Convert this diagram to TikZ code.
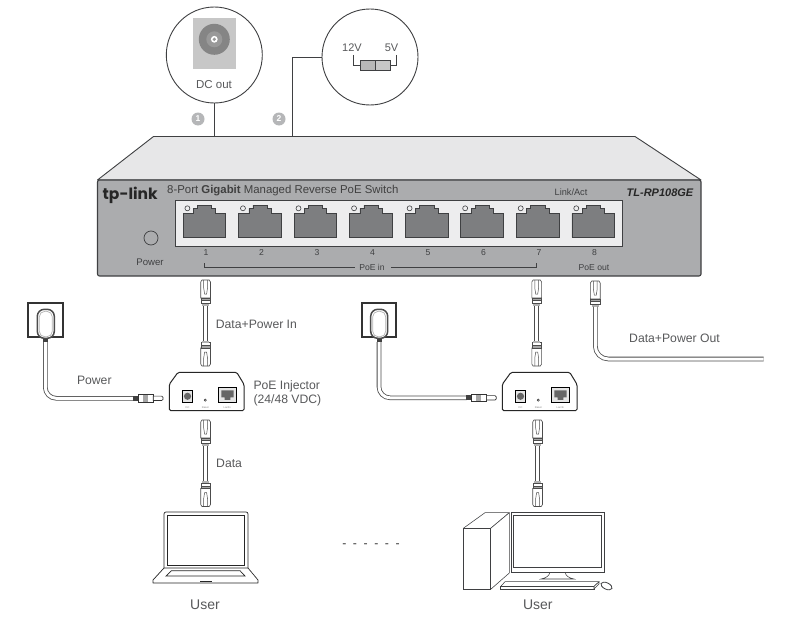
\documentclass[tikz,border=0pt]{standalone}
\usepackage{fontspec}
\setmainfont{Liberation Sans}
\newfontfamily\logofont{Poppins}
\usetikzlibrary{calc}
\definecolor{panel}{HTML}{ABACAE}
\definecolor{topface}{HTML}{E7E7E8}
\definecolor{portbg}{HTML}{EDEDEE}
\definecolor{portfill}{HTML}{7D7E80}
\definecolor{edge}{HTML}{3F4042}
\definecolor{txt}{HTML}{58595B}
\definecolor{callgrey}{HTML}{B5B6B8}
\tikzset{
  lbl/.style={inner sep=0pt,text=txt,font=\fontsize{12.2}{14}\selectfont},
  lblw/.style={lbl,anchor=west},
  small/.style={inner sep=0pt,text=edge,font=\fontsize{8.6}{10}\selectfont},
  tiny/.style={inner sep=0pt,text=gray,font=\fontsize{2.6}{3}\selectfont},
  callout/.style={circle,draw=edge,line width=0.9pt,minimum size=96pt,inner sep=0pt,fill=white},
  badge/.style={circle,fill=callgrey,text=white,minimum size=13pt,inner sep=0pt,font=\fontsize{8.5}{9}\bfseries\selectfont},
  wire/.style={draw=edge,line width=0.9pt},
  cable/.style={draw=black!70,line width=4.6pt,line cap=butt},
  cablein/.style={draw=white,line width=3pt,line cap=butt},
  outline/.style={draw=black!85,line width=0.8pt},
  thin/.style={draw=edge,line width=0.55pt},
  plugup/.pic={
    \path[fill=white,draw=black!70,line width=0.6pt] (-3.6,0) -- (3.6,0) -- (4.9,2) -- (4.9,18) -- (-4.9,18) -- (-4.9,2) -- cycle;
    \path[draw=black!70,line width=0.5pt] (-1.9,0) -- (-1.9,8) -- (-1,14) -- (1,14) -- (1.9,8) -- (1.9,0);
    \path[fill=black!35,draw=black!70,line width=0.4pt] (-4.9,18) rectangle (4.9,20.5);
    \path[fill=white,draw=black!70,line width=0.4pt] (-4.9,20.5) rectangle (4.9,23.5);
    \path[fill=black!30] (-3.6,23.5) rectangle (3.6,25.5);
  },
  plugdown/.pic={
    \path[fill=white,draw=black!70,line width=0.6pt] (-3.6,0) -- (3.6,0) -- (4.9,-2) -- (4.9,-18) -- (-4.9,-18) -- (-4.9,-2) -- cycle;
    \path[draw=black!70,line width=0.5pt] (-1.9,0) -- (-1.9,-8) -- (-1,-14) -- (1,-14) -- (1.9,-8) -- (1.9,0);
    \path[fill=black!35,draw=black!70,line width=0.4pt] (-4.9,-18) rectangle (4.9,-20.5);
    \path[fill=white,draw=black!70,line width=0.4pt] (-4.9,-20.5) rectangle (4.9,-23.5);
    \path[fill=black!30] (-3.6,-23.5) rectangle (3.6,-25.5);
  },
  swport/.pic={
    \path[fill=portfill,draw=edge,line width=0.7pt] (0,8.3) -- (10.3,8.3) -- (10.3,3.3) -- (14.3,3.3) -- (14.3,0) -- (28.7,0) -- (28.7,3.3) -- (32.7,3.3) -- (32.7,8.3) -- (42.7,8.3) -- (42.7,32.3) -- (0,32.3) -- cycle;
    \path[draw=edge,line width=0.6pt,fill=portbg] (4.4,3.3) circle (2.5);
  },
  injector/.pic={
    \path[fill=white,outline,rounded corners=1.5pt,line width=1pt] (0,38.4) -- (0,12) -- (8.7,0) -- (67.4,0) -- (74.7,12) -- (74.7,38.4) -- cycle;
    \path[fill=black!10,draw=black,line width=0.9pt] (13,18) rectangle (23.4,30);
    \path[fill=black!60] (18.2,24) circle (3.6);
    \path[fill=black!80] (36,27.8) circle (1.5);
    \path[fill=white] (36,27.8) circle (0.5);
    \path[fill=black!10,draw=black,line width=1.1pt] (49,15) rectangle (67.4,30.4);
    \path[fill=black!60] (52,18) -- (64.4,18) -- (64.4,25) -- (61,25) -- (61,27.5) -- (55.4,27.5) -- (55.4,25) -- (52,25) -- cycle;
    \node[tiny] at (18.2,35.5) {DC};
    \node[tiny] at (36,35.5) {Reset};
    \node[tiny] at (58,35.5) {Lan/In};
  },
  outlet/.pic={
    \path[fill=white,draw=black!80,line width=2pt] (0,0) rectangle (34.7,34);
    \path[fill=white,draw=black!70,line width=1.5pt,rounded corners=7pt] (9,6) rectangle (26,35);
    \path[draw=black!30,line width=0.7pt,rounded corners=5.5pt] (11,8) rectangle (24,33.5);
    \path[fill=black!75] (15,35.5) rectangle (20,39);
  },
  dcplug/.pic={
    \path[fill=black!75] (0,-2.5) rectangle (5.3,2.5);
    \path[fill=white,draw=black!80,line width=0.7pt] (5.3,-3.6) rectangle (20.6,3.6);
    \path[fill=black!35] (10,-3.3) rectangle (15,3.3);
    \path[fill=white,draw=black!80,line width=0.7pt] (20.6,-2.2) -- (29,-2.2) -- (30.3,-1) -- (30.3,1) -- (29,2.2) -- (20.6,2.2) -- cycle;
  }
}
\begin{document}
\begin{tikzpicture}[x=1pt,y=-1pt]
\useasboundingbox[fill=white] (0,0) rectangle (789,626);

%% ---- switch body
\coordinate (top1) at (214.3,136.5);
\coordinate (top2) at (292.5,136.5);
\path[fill=topface,draw=edge,line width=0.9pt,line join=round] (97.5,180) -- (153.5,136.5) -- (635,136.5) -- (701,180) -- cycle;
\path[fill=panel,draw=edge,line width=1.1pt,rounded corners=2pt] (97.5,180) rectangle (701,276);
\path[fill=portbg,draw=edge,line width=0.7pt] (175,200) rectangle (622.7,246.7);
\foreach \i in {0,...,7} {
  \pic at ({183+55.55*\i},205) {swport};
  \node[small] at ({206+55.5*\i},252.5) {\the\numexpr\i+1\relax};
}
\node[inner sep=0pt,text=black!85,anchor=west,font=\logofont\fontsize{15.5}{18}\bfseries\selectfont] (logo) at (102.5,195) {tp-link};
\node[inner sep=0pt,text=black!75,anchor=west,font=\fontsize{11.4}{13}\selectfont] (title) at (167,191) {8-Port \textbf{Gigabit} Managed Reverse PoE Switch};
\node[small,font=\fontsize{9.2}{11}\selectfont] (linkact) at (571,192) {Link/Act};
\node[inner sep=0pt,text=black!85,font=\fontsize{11}{13}\bfseries\itshape\selectfont] (model) at (660,192.5) {TL-RP108GE};
\node[circle,draw=edge,line width=0.7pt,minimum size=14pt,inner sep=0pt] (pwrled) at (151,238) {};
\node[small,font=\fontsize{9.6}{11}\selectfont] (pwrlbl) at (150,262) {Power};
\node[small] (poein) at (372,267.5) {PoE in};
\node[small] (poeout) at (594,267.5) {PoE out};
\coordinate (bl) at (204,263);
\coordinate (br) at (536,263);
\draw[thin] (bl) |- ($(poein.west)+(-4,0)$);
\draw[thin] (br) |- ($(poein.east)+(6,0)$);

%% ---- callouts
\node[callout] (dc) at (214.3,55) {};
\node[callout] (sw) at (370,57) {};
\draw[wire] (dc) -- (top1);
\draw[wire] (sw) -| (top2);
\path[fill=black!22] (193.3,18.3) rectangle (235.7,69.3);
\path[fill=black!48] (214.3,39.3) circle (15.5);
\path[fill=black!40] (214.3,39.3) circle (8);
\path[fill=white] (214.3,39.3) circle (3.4);
\path[fill=black!40] (214.3,39.3) circle (1.8);
\node[lbl,font=\fontsize{11.5}{13}\selectfont] (dctxt) at (214,85) {DC out};
\node[lbl,font=\fontsize{11}{13}\selectfont] (v12) at (352,48) {12V};
\node[lbl,font=\fontsize{11}{13}\selectfont] (v5) at (391.5,48) {5V};
\path[fill=black!28,draw=edge,line width=0.7pt] (360,60.5) rectangle (375,70.5);
\path[fill=black!22,draw=edge,line width=0.7pt] (375,60.5) rectangle (390,70.5);
\draw[thin] (353,55) |- (360,65.5);
\draw[thin] (396,55) |- (390,65.5);
\node[badge] (b1) at (198,119) {1};
\node[badge] (b2) at (279,119) {2};

%% ---- left branch
\pic at (205.6,280) {plugup};
\coordinate (a1) at (205.6,305.5);
\coordinate (a2) at (205.6,340.5);
\draw[cable] (a1) -- (a2); \draw[cablein] (a1) -- (a2);
\pic at (205.6,366) {plugdown};
\pic at (169.3,372.3) {injector};
\node[lblw] (dpi) at (215.7,324) {Data+Power In};
\node[lblw] (inj) at (253.3,386) {PoE Injector};
\node[lblw] (inj2) at (253.3,400) {(24/48 VDC)};
\pic at (28.3,303.3) {outlet};
\coordinate (p1) at (45.3,342);
\coordinate (p2) at (45.3,398.3);
\coordinate (p3) at (133,398.3);
\draw[cable,rounded corners=11pt] (p1) -- (p2) -- (p3);
\draw[cablein,rounded corners=11pt] (p1) -- (p2) -- (p3);
\pic at (132.7,398.3) {dcplug};
\node[lbl] (pw) at (94.3,380) {Power};
\pic at (205.6,420) {plugup};
\coordinate (d1) at (205.6,445.5);
\coordinate (d2) at (205.6,481);
\draw[cable] (d1) -- (d2); \draw[cablein] (d1) -- (d2);
\pic at (205.6,506.5) {plugdown};
\node[lblw] (dt) at (216,463.5) {Data};
% laptop
\path[outline,line join=round,line width=0.7pt,fill=white] (164,568) -- (153,580) -- (153,583) -- (258,583) -- (258,580) -- (248,568) -- cycle;
\path[outline,rounded corners=2pt,line width=0.7pt] (164,568) -- (164,512) -- (248,512) -- (248,568);
\path[outline,line width=0.9pt] (167.3,515.3) rectangle (244.3,565);
\path[outline,line width=0.7pt] (171.5,570.7) -- (240,570.7) -- (245,576) -- (166,576) -- cycle;
\path[outline,line width=1.1pt] (200,581.5) -- (212,581.5);
\node[lbl,font=\fontsize{14}{16}\selectfont] (u1) at (205,605) {User};

%% ---- right branch
\pic at (536.7,280) {plugup};
\coordinate (a3) at (536.7,305.5);
\coordinate (a4) at (536.7,340.5);
\draw[cable] (a3) -- (a4); \draw[cablein] (a3) -- (a4);
\pic at (536.7,366) {plugdown};
\pic at (502.3,372.3) {injector};
\pic at (361.7,303.3) {outlet};
\coordinate (q1) at (379,342);
\coordinate (q2) at (379,397.8);
\coordinate (q3) at (466.5,397.8);
\draw[cable,rounded corners=11pt] (q1) -- (q2) -- (q3);
\draw[cablein,rounded corners=11pt] (q1) -- (q2) -- (q3);
\pic at (466,397.8) {dcplug};
\pic at (537.6,420) {plugup};
\coordinate (e1) at (537.6,445.5);
\coordinate (e2) at (537.6,481);
\draw[cable] (e1) -- (e2); \draw[cablein] (e1) -- (e2);
\pic at (537.6,506.5) {plugdown};
% output
\pic at (595.3,281) {plugup};
\coordinate (o1) at (595.3,306.5);
\coordinate (o2) at (595.3,359);
\coordinate (o3) at (763.5,359);
\draw[cable,rounded corners=13pt] (o1) -- (o2) -- (o3);
\draw[cablein,rounded corners=13pt] (o1) -- (o2) -- (o3);
\node[lblw] (dpo) at (629,338.5) {Data+Power Out};
% desktop
\path[thin,fill=white,line join=round] (463.3,528.3) -- (485,512.7) -- (509.3,512.7) -- (490.7,528.3) -- cycle;
\path[thin,fill=white,line join=round] (490.7,528.3) -- (509.3,512.7) -- (509.3,573) -- (490.7,589.3) -- cycle;
\path[thin,fill=white] (463.3,528.3) rectangle (490.7,589.3);
\path[thin,fill=white,line width=0.8pt] (511,512.7) rectangle (604,572.3);
\path[thin,line width=1pt] (513.7,515.3) rectangle (601.3,567.7);
\path[thin] (550,572.3) .. controls (549,576) and (546,578) .. (541,579) -- (574,579) .. controls (569,578) and (566,576) .. (565,572.3);
\path[thin,fill=white,line join=round] (505,581.7) -- (599,581.7) -- (594,586.5) -- (500.7,586.5) -- cycle;
\path[thin,fill=white] (500.7,586.5) rectangle (594,589);
\path[thin,fill=white] (594,586.5) -- (599,581.7) -- (599,584) -- (594,589) -- cycle;
\path[thin,line width=0.8pt,rotate around={-25:(606.5,586)}] (606.5,586) ellipse (6 and 3.2);
\node[lbl,font=\fontsize{14}{16}\selectfont] (u2) at (537.8,605) {User};
\node[lbl,text=black!80] (dots) at (371,546) {-\hspace{6.6pt}-\hspace{6.6pt}-\hspace{6.6pt}-\hspace{6.6pt}-\hspace{6.6pt}-};
\end{tikzpicture}
\end{document}
